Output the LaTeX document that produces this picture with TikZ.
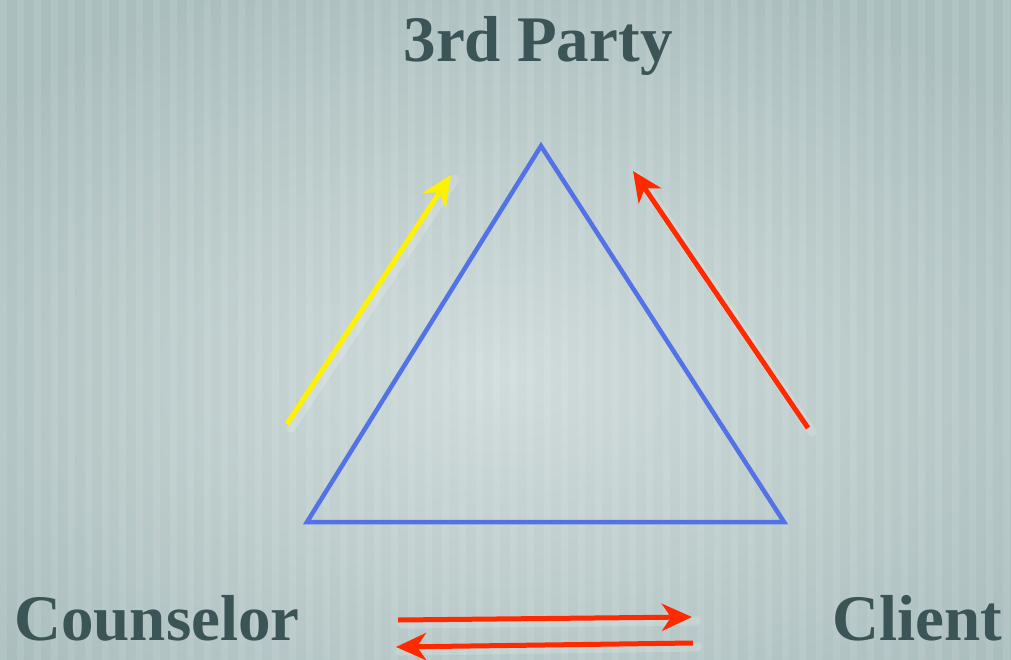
\documentclass[tikz,border=0pt]{standalone}
\usepackage{fontspec}
\setmainfont{Liberation Serif}
\usetikzlibrary{arrows.meta}
\definecolor{slate}{HTML}{3B5455}
\definecolor{bgdark}{HTML}{ABBEBE}
\definecolor{bglight}{HTML}{D0DCDB}
\definecolor{triblue}{HTML}{5272E6}
\definecolor{arrred}{HTML}{FF2A00}
\definecolor{arryel}{HTML}{FFF200}
\tikzset{
  rolename/.style={text=slate,font=\fontsize{65}{65}\selectfont\bfseries,inner sep=0pt,anchor=base},
  side/.style={draw=triblue,line width=4.5pt},
  flow/.style={line width=5pt,-{Stealth[length=30pt,width=27pt,inset=9pt]}},
  glow/.style={draw=white,opacity=0.18,line width=9pt,line cap=round}
}
\begin{document}
\begin{tikzpicture}[x=1pt,y=-1pt]
  \useasboundingbox (0,0) rectangle (1011,660);
  % backdrop
  \begin{scope}
    \clip (0,0) rectangle (1011,660);
    \shade[inner color=bglight,outer color=bgdark] (-150,-50) rectangle (1161,800);
    \foreach \x in {0,17,...,1008}
      \fill[white,opacity=0.09] (\x,0) rectangle ++(7,660);
  \end{scope}

  % labels
  \node[rolename] (party) at (538,62) {3rd Party};
  \node[rolename] (counselor) at (157,640) {Counselor};
  \node[rolename] (client) at (917,640) {Client};

  % triangle
  \coordinate (top) at (541,146);
  \coordinate (left) at (307,522);
  \coordinate (right) at (784,522);
  \draw[side,line join=miter] (top) -- (left) -- (right) -- cycle;

  % arrows
  \coordinate (y0) at (287,424);
  \coordinate (y1) at (451,175);
  \coordinate (r0) at (808,428);
  \coordinate (r1) at (633,171);
  \coordinate (a0) at (398,620);
  \coordinate (a1) at (692,617);
  \coordinate (b0) at (693,643);
  \coordinate (b1) at (396,647);
  \foreach \p/\q in {y0/y1,r0/r1,a0/a1,b0/b1}
    \draw[glow] ([shift={(4,4)}]\p) -- ([shift={(4,4)}]\q);
  \draw[flow,arryel] (y0) -- (y1);
  \draw[flow,arrred] (r0) -- (r1);
  \draw[flow,arrred] (a0) -- (a1);
  \draw[flow,arrred] (b0) -- (b1);
\end{tikzpicture}
\end{document}
